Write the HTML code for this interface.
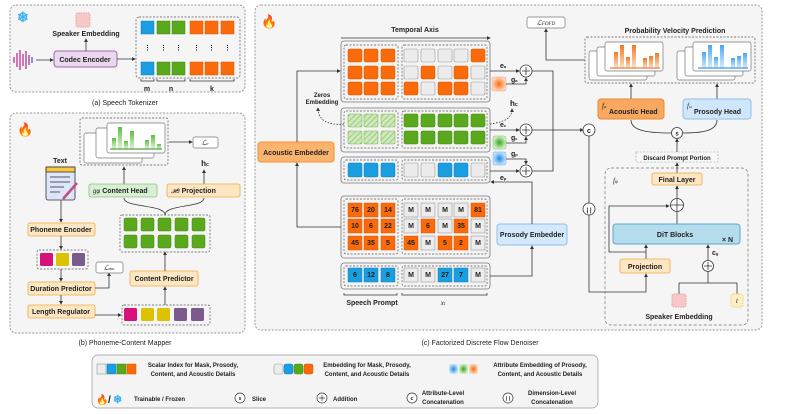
<!DOCTYPE html>
<html><head><meta charset="utf-8"><style>
body{margin:0;background:#fff}
svg{display:block;font-family:"Liberation Sans",sans-serif;font-weight:bold}
text{font-size:7px;fill:#222}
.o{fill:#fb6a0a;stroke:#d85800;stroke-width:.5}
.g{fill:#ececec;stroke:#999;stroke-width:.6}
.gr{fill:#5aa81c;stroke:#468a12;stroke-width:.5}
.b{fill:#1a9ee0;stroke:#1080c0;stroke-width:.5}
.h{fill:url(#hatch);stroke:#7ab850;stroke-width:.6}
.ln{fill:none;stroke:#333;stroke-width:.8}
.dash{fill:none;stroke:#555;stroke-width:.7;stroke-dasharray:2,1.5}
.blk{fill:#f4f4f4;stroke:#777;stroke-width:.8}
.ob{fill:#fde6c4;stroke:#f0aa40;stroke-width:.8}
.card{fill:#fff;stroke:#777;stroke-width:.7}
.n{font-size:6px;text-anchor:middle}
.c{text-anchor:middle}
</style></head><body>
<svg width="793" height="414" viewBox="0 0 793 414" xmlns="http://www.w3.org/2000/svg">
<defs>
<marker id="a" markerWidth="5" markerHeight="5" refX="4" refY="2.5" orient="auto"><path d="M0,0 L5,2.5 L0,5z" fill="#333"/></marker>
<pattern id="hatch" width="4" height="4" patternUnits="userSpaceOnUse" patternTransform="rotate(45)"><rect width="4" height="4" fill="#cfe8bd"/><line x1="0" y1="0" x2="0" y2="4" stroke="#8cc66a" stroke-width="1.5"/></pattern>
<radialGradient id="ro"><stop offset="0" stop-color="#fb6a0a"/><stop offset="1" stop-color="#fdd8c0"/></radialGradient>
<radialGradient id="rg"><stop offset="0" stop-color="#3aa51c"/><stop offset="1" stop-color="#d0f0c8"/></radialGradient>
<radialGradient id="rb"><stop offset="0" stop-color="#1a8ee0"/><stop offset="1" stop-color="#c8e4fb"/></radialGradient>
<linearGradient id="gg" x1="0" y1="0" x2="0" y2="1"><stop offset="0" stop-color="#5cc040"/><stop offset="1" stop-color="#e0f5d8"/></linearGradient>
<linearGradient id="og" x1="0" y1="0" x2="0" y2="1"><stop offset="0" stop-color="#f07a20"/><stop offset="1" stop-color="#fde0c8"/></linearGradient>
<linearGradient id="bg" x1="0" y1="0" x2="0" y2="1"><stop offset="0" stop-color="#4aa8f0"/><stop offset="1" stop-color="#d8ecfc"/></linearGradient>
</defs>

<!-- panel a -->
<rect x="10" y="5" width="235" height="87" rx="6" fill="#f5f5f5" stroke="#999" stroke-dasharray="2,1.5"/>
<text x="17" y="22" style="font-size:14px;fill:#3ab0f0">❄</text>
<g stroke="#c03090" stroke-width="1.3"><line x1="14" y1="57" x2="14" y2="63"/><line x1="17" y1="53" x2="17" y2="67"/><line x1="20" y1="50" x2="20" y2="70"/><line x1="23" y1="54" x2="23" y2="66"/><line x1="26" y1="51" x2="26" y2="69"/><line x1="29" y1="55" x2="29" y2="65" stroke="#8040c0"/><line x1="32" y1="57" x2="32" y2="63" stroke="#8040c0"/></g>
<line x1="36" y1="60" x2="53" y2="60" class="ln" marker-end="url(#a)"/>
<rect x="54" y="51" width="63" height="16" rx="3" fill="#ead8ef" stroke="#9a6aa8"/>
<text x="85" y="62" class="c">Codec Encoder</text>
<rect x="76" y="13" width="14" height="14" rx="2" fill="#f6c8c8" stroke="#e9a0a0" stroke-dasharray="1.5,1"/>
<text x="86" y="36" class="c">Speaker Embedding</text>
<line x1="86" y1="51" x2="86" y2="39" class="ln" marker-end="url(#a)"/>
<line x1="117" y1="59" x2="135" y2="59" class="ln" marker-end="url(#a)"/>
<rect x="136" y="17" width="104" height="61" rx="3" class="dash"/>
<rect x="141" y="21" width="13" height="13" class="b"/><rect x="157" y="21" width="13" height="13" class="gr"/><rect x="172" y="21" width="13" height="13" class="gr"/><rect x="190" y="21" width="13" height="13" class="o"/><rect x="205" y="21" width="13" height="13" class="o"/><rect x="221" y="21" width="13" height="13" class="o"/>
<rect x="141" y="62" width="13" height="13" class="b"/><rect x="157" y="62" width="13" height="13" class="gr"/><rect x="172" y="62" width="13" height="13" class="gr"/><rect x="190" y="62" width="13" height="13" class="o"/><rect x="205" y="62" width="13" height="13" class="o"/><rect x="221" y="62" width="13" height="13" class="o"/>
<text x="144" y="50">⋮</text><text x="160" y="50">⋮</text><text x="175" y="50">⋮</text><text x="193" y="50">⋮</text><text x="208" y="50">⋮</text><text x="224" y="50">⋮</text>
<path d="M141,79 v2 h13 v-2 M157,79 v2 h28 v-2 M190,79 v2 h44 v-2" class="ln"/>
<text x="147" y="91" class="c">m</text><text x="171" y="91" class="c">n</text><text x="212" y="91" class="c">k</text>
<text x="125" y="105" class="c" style="font-weight:normal">(a) Speech Tokenizer</text>

<!-- panel b -->
<rect x="10" y="113" width="235" height="220" rx="6" fill="#f5f5f5" stroke="#999" stroke-dasharray="2,1.5"/>
<text x="17" y="134" style="font-size:13px;fill:#f05020">🔥</text>
<rect x="80" y="118" width="88" height="47" rx="2" class="dash"/>
<rect x="84" y="133" width="58" height="30" rx="2" class="card"/>
<rect x="96" y="128" width="58" height="30" rx="2" class="card"/>
<rect x="107" y="123" width="58" height="30" rx="2" class="card"/>
<g fill="url(#gg)"><rect x="112" y="138" width="4" height="11"/><rect x="118" y="127" width="4" height="22"/><rect x="124" y="141" width="4" height="8"/><rect x="130" y="131" width="4" height="18"/><rect x="145" y="140" width="4" height="9"/><rect x="151" y="135" width="4" height="14"/><rect x="157" y="144" width="4" height="5"/></g>
<line x1="110" y1="149" x2="162" y2="149" stroke="#2a8a10"/>
<line x1="169" y1="142" x2="192" y2="142" class="ln" marker-end="url(#a)"/>
<rect x="193" y="137" width="25" height="11" rx="2" fill="#fff" stroke="#777" stroke-width=".7"/>
<text x="205" y="145" class="c" style="font-style:italic;font-weight:normal">ℒ<tspan font-size="4">c</tspan></text>
<text x="205" y="166" class="c" style="font-size:8px">h<tspan font-size="5">c</tspan></text>
<line x1="204" y1="184" x2="204" y2="170" class="ln" marker-end="url(#a)"/>
<line x1="124" y1="184" x2="124" y2="167" class="ln" marker-end="url(#a)"/>
<rect x="89" y="184" width="68" height="13" rx="2" fill="#d8efd4" stroke="#8cc080" stroke-width=".8"/>
<text x="93" y="193"><tspan font-style="italic" font-size="6" font-weight="normal">gφ</tspan> Content Head</text>
<rect x="167" y="184" width="73" height="13" rx="2" class="ob"/>
<text x="171" y="193"><tspan font-style="italic" font-size="6" font-weight="normal">𝓗θ</tspan>    Projection</text>
<path d="M165,215 C165,204 124,208 124,198 M165,215 C165,204 204,208 204,198" class="ln"/>
<text x="60" y="163" class="c">Text</text>
<rect x="46" y="167" width="29" height="33" rx="2" fill="#dde6f8" stroke="#333" stroke-width=".8"/><rect x="46" y="167" width="29" height="5" fill="#f8c840" stroke="#333" stroke-width=".8"/>
<g stroke="#556" stroke-width="1"><line x1="50" y1="177" x2="70" y2="177"/><line x1="50" y1="182" x2="70" y2="182"/><line x1="50" y1="187" x2="64" y2="187"/><line x1="50" y1="192" x2="60" y2="192"/></g>
<line x1="77" y1="183" x2="63" y2="199" stroke="#c05080" stroke-width="2.5"/>
<line x1="61" y1="200" x2="61" y2="222" class="ln" marker-end="url(#a)"/>
<rect x="28" y="223" width="67" height="13" rx="2" class="ob"/><text x="61" y="232" class="c">Phoneme Encoder</text>
<line x1="61" y1="236" x2="61" y2="249" class="ln" marker-end="url(#a)"/>
<rect x="37" y="250" width="51" height="19" rx="2" class="dash"/>
<rect x="40" y="253" width="13" height="13" rx="1.5" fill="#d6127a"/><rect x="56" y="253" width="13" height="13" rx="1.5" fill="#dcc200"/><rect x="72" y="253" width="13" height="13" rx="1.5" fill="#7b5a8c"/>
<line x1="61" y1="269" x2="61" y2="281" class="ln" marker-end="url(#a)"/>
<rect x="28" y="282" width="67" height="13" rx="2" class="ob"/><text x="61" y="291" class="c">Duration Predictor</text>
<path d="M95,288 H109 V273" class="ln" marker-end="url(#a)"/>
<rect x="96" y="262" width="27" height="11" rx="2" fill="#fff" stroke="#777" stroke-width=".7"/>
<text x="109" y="270" class="c" style="font-style:italic;font-weight:normal">ℒ<tspan font-size="4">dur</tspan></text>
<line x1="61" y1="295" x2="61" y2="304" class="ln" marker-end="url(#a)"/>
<rect x="28" y="305" width="67" height="13" rx="2" class="ob"/><text x="61" y="314" class="c">Length Regulator</text>
<line x1="95" y1="315" x2="121" y2="315" class="ln" marker-end="url(#a)"/>
<rect x="122" y="305" width="88" height="20" rx="2" class="dash"/>
<rect x="124" y="308" width="13" height="13" rx="1.5" fill="#d6127a"/><rect x="141" y="308" width="13" height="13" rx="1.5" fill="#dcc200"/><rect x="157" y="308" width="13" height="13" rx="1.5" fill="#dcc200"/><rect x="174" y="308" width="13" height="13" rx="1.5" fill="#7b5a8c"/><rect x="191" y="308" width="13" height="13" rx="1.5" fill="#7b5a8c"/>
<line x1="165" y1="305" x2="165" y2="287" class="ln" marker-end="url(#a)"/>
<rect x="130" y="271" width="68" height="15" rx="2" class="ob"/><text x="164" y="281" class="c">Content Predictor</text>
<line x1="165" y1="271" x2="165" y2="252" class="ln" marker-end="url(#a)"/>
<rect x="120" y="215" width="90" height="37" rx="2" class="dash"/>
<g class="gr"><rect x="124" y="218" width="13" height="13" rx="1.5"/><rect x="141" y="218" width="13" height="13" rx="1.5"/><rect x="158" y="218" width="13" height="13" rx="1.5"/><rect x="175" y="218" width="13" height="13" rx="1.5"/><rect x="192" y="218" width="13" height="13" rx="1.5"/><rect x="124" y="235" width="13" height="13" rx="1.5"/><rect x="141" y="235" width="13" height="13" rx="1.5"/><rect x="158" y="235" width="13" height="13" rx="1.5"/><rect x="175" y="235" width="13" height="13" rx="1.5"/><rect x="192" y="235" width="13" height="13" rx="1.5"/></g>
<text x="125" y="345" class="c" style="font-weight:normal">(b) Phoneme-Content Mapper</text>

<!-- panel c -->
<rect x="255" y="5" width="507" height="325" rx="6" fill="#f5f5f5" stroke="#999" stroke-dasharray="2,1.5"/>
<text x="261" y="26" style="font-size:13px;fill:#f05020">🔥</text>
<text x="415" y="32" class="c">Temporal Axis</text>
<line x1="341" y1="38" x2="490" y2="38" class="ln" marker-end="url(#a)"/>
<!-- acoustic block -->
<rect x="341" y="41" width="149" height="61" rx="3" class="blk"/>
<rect x="344" y="45" width="54" height="54" rx="2" class="dash"/><rect x="402" y="45" width="85" height="54" rx="2" class="dash"/>
<g class="o"><rect x="348" y="49" width="14" height="13" rx="1.5"/><rect x="364" y="49" width="14" height="13" rx="1.5"/><rect x="381" y="49" width="14" height="13" rx="1.5"/><rect x="348" y="66" width="14" height="13" rx="1.5"/><rect x="364" y="66" width="14" height="13" rx="1.5"/><rect x="381" y="66" width="14" height="13" rx="1.5"/><rect x="348" y="82" width="14" height="13" rx="1.5"/><rect x="364" y="82" width="14" height="13" rx="1.5"/><rect x="381" y="82" width="14" height="13" rx="1.5"/></g>
<rect x="404" y="49" width="14" height="13" rx="1.5" class="g"/><rect x="421" y="49" width="14" height="13" rx="1.5" class="g"/><rect x="438" y="49" width="14" height="13" rx="1.5" class="g"/><rect x="454" y="49" width="14" height="13" rx="1.5" class="g"/><rect x="471" y="49" width="14" height="13" rx="1.5" class="o"/>
<rect x="404" y="66" width="14" height="13" rx="1.5" class="g"/><rect x="421" y="66" width="14" height="13" rx="1.5" class="o"/><rect x="438" y="66" width="14" height="13" rx="1.5" class="g"/><rect x="454" y="66" width="14" height="13" rx="1.5" class="o"/><rect x="471" y="66" width="14" height="13" rx="1.5" class="g"/>
<rect x="404" y="82" width="14" height="13" rx="1.5" class="o"/><rect x="421" y="82" width="14" height="13" rx="1.5" class="g"/><rect x="438" y="82" width="14" height="13" rx="1.5" class="o"/><rect x="454" y="82" width="14" height="13" rx="1.5" class="o"/><rect x="471" y="82" width="14" height="13" rx="1.5" class="g"/>
<!-- content block -->
<rect x="341" y="108" width="149" height="44" rx="3" class="blk"/>
<rect x="344" y="111" width="54" height="37" rx="2" class="dash"/><rect x="402" y="111" width="85" height="37" rx="2" class="dash"/>
<g class="h"><rect x="348" y="114" width="14" height="13" rx="1.5"/><rect x="364" y="114" width="14" height="13" rx="1.5"/><rect x="381" y="114" width="14" height="13" rx="1.5"/><rect x="348" y="131" width="14" height="13" rx="1.5"/><rect x="364" y="131" width="14" height="13" rx="1.5"/><rect x="381" y="131" width="14" height="13" rx="1.5"/></g>
<g class="gr"><rect x="404" y="114" width="14" height="13" rx="1.5"/><rect x="421" y="114" width="14" height="13" rx="1.5"/><rect x="438" y="114" width="14" height="13" rx="1.5"/><rect x="454" y="114" width="14" height="13" rx="1.5"/><rect x="471" y="114" width="14" height="13" rx="1.5"/><rect x="404" y="131" width="14" height="13" rx="1.5"/><rect x="421" y="131" width="14" height="13" rx="1.5"/><rect x="438" y="131" width="14" height="13" rx="1.5"/><rect x="454" y="131" width="14" height="13" rx="1.5"/><rect x="471" y="131" width="14" height="13" rx="1.5"/></g>
<!-- prosody block -->
<rect x="341" y="157" width="149" height="26" rx="3" class="blk"/>
<rect x="344" y="160" width="54" height="20" rx="2" class="dash"/><rect x="402" y="160" width="85" height="20" rx="2" class="dash"/>
<rect x="348" y="163" width="14" height="14" rx="1.5" class="b"/><rect x="364" y="163" width="14" height="14" rx="1.5" class="b"/><rect x="381" y="163" width="14" height="14" rx="1.5" class="b"/>
<rect x="404" y="163" width="14" height="14" rx="1.5" class="g"/><rect x="421" y="163" width="14" height="14" rx="1.5" class="g"/><rect x="438" y="163" width="14" height="14" rx="1.5" class="b"/><rect x="454" y="163" width="14" height="14" rx="1.5" class="b"/><rect x="471" y="163" width="14" height="14" rx="1.5" class="g"/>
<!-- index block -->
<rect x="341" y="196" width="149" height="62" rx="3" class="blk"/>
<rect x="344" y="199" width="54" height="55" rx="2" class="dash"/><rect x="402" y="199" width="85" height="55" rx="2" class="dash"/>
<g class="o"><rect x="348" y="203" width="14" height="14"/><rect x="364" y="203" width="14" height="14"/><rect x="381" y="203" width="14" height="14"/><rect x="348" y="219" width="14" height="14"/><rect x="364" y="219" width="14" height="14"/><rect x="381" y="219" width="14" height="14"/><rect x="348" y="236" width="14" height="14"/><rect x="364" y="236" width="14" height="14"/><rect x="381" y="236" width="14" height="14"/><rect x="471" y="203" width="14" height="14"/><rect x="421" y="219" width="14" height="14"/><rect x="454" y="219" width="14" height="14"/><rect x="404" y="236" width="14" height="14"/><rect x="438" y="236" width="14" height="14"/><rect x="454" y="236" width="14" height="14"/></g>
<g class="g"><rect x="404" y="203" width="14" height="14"/><rect x="421" y="203" width="14" height="14"/><rect x="438" y="203" width="14" height="14"/><rect x="454" y="203" width="14" height="14"/><rect x="404" y="219" width="14" height="14"/><rect x="438" y="219" width="14" height="14"/><rect x="471" y="219" width="14" height="14"/><rect x="421" y="236" width="14" height="14"/><rect x="471" y="236" width="14" height="14"/></g>
<g class="n"><text x="355" y="212">76</text><text x="371" y="212">20</text><text x="388" y="212">14</text><text x="411" y="212">M</text><text x="428" y="212">M</text><text x="445" y="212">M</text><text x="461" y="212">M</text><text x="478" y="212">81</text>
<text x="355" y="228">10</text><text x="371" y="228">6</text><text x="388" y="228">22</text><text x="411" y="228">M</text><text x="428" y="228">6</text><text x="445" y="228">M</text><text x="461" y="228">35</text><text x="478" y="228">M</text>
<text x="355" y="245">45</text><text x="371" y="245">35</text><text x="388" y="245">5</text><text x="411" y="245">45</text><text x="428" y="245">M</text><text x="445" y="245">5</text><text x="461" y="245">2</text><text x="478" y="245">M</text></g>
<!-- prosody index -->
<rect x="341" y="263" width="149" height="26" rx="3" class="blk"/>
<rect x="344" y="266" width="54" height="20" rx="2" class="dash"/><rect x="402" y="266" width="85" height="20" rx="2" class="dash"/>
<rect x="348" y="268" width="14" height="14" class="b"/><rect x="364" y="268" width="14" height="14" class="b"/><rect x="381" y="268" width="14" height="14" class="b"/><rect x="404" y="268" width="14" height="14" class="g"/><rect x="421" y="268" width="14" height="14" class="g"/><rect x="438" y="268" width="14" height="14" class="b"/><rect x="454" y="268" width="14" height="14" class="b"/><rect x="471" y="268" width="14" height="14" class="g"/>
<g class="n"><text x="355" y="277">6</text><text x="371" y="277">12</text><text x="388" y="277">8</text><text x="411" y="277">M</text><text x="428" y="277">M</text><text x="445" y="277">27</text><text x="461" y="277">7</text><text x="478" y="277">M</text></g>
<path d="M344,293 v2 h53 v-2 M402,293 v2 h85 v-2" class="ln"/>
<text x="372" y="305" class="c">Speech Prompt</text>
<text x="443" y="305" class="c" style="font-style:italic;font-family:'Liberation Serif',serif;font-weight:normal">x<tspan font-size="5">t</tspan></text>
<!-- acoustic embedder -->
<rect x="258" y="142" width="76" height="20" rx="3" fill="#fbb46e" stroke="#f09030"/>
<text x="296" y="155" class="c">Acoustic Embedder</text>
<path d="M341,227 H297 V163" class="ln" marker-end="url(#a)"/>
<path d="M297,142 V71 H340" class="ln" marker-end="url(#a)"/>
<text x="322" y="97" class="c" style="font-size:6px">Zeros</text><text x="322" y="104" class="c" style="font-size:6px">Embedding</text>
<path d="M344,124 C325,126 318,118 318,108" class="ln" stroke-dasharray="1.5,1.5" marker-end="url(#a)"/>
<!-- sums -->
<g fill="#fff" stroke="#333" stroke-width=".8"><circle cx="526" cy="71" r="6"/><circle cx="526" cy="130" r="6"/><circle cx="526" cy="171" r="6"/></g>
<g stroke="#333" stroke-width=".8"><path d="M522,71h8M526,67v8M522,130h8M526,126v8M522,171h8M526,167v8"/></g>
<line x1="490" y1="71" x2="519" y2="71" class="ln" marker-end="url(#a)"/><text x="500" y="68" style="font-size:7px">e<tspan font-size="4">a</tspan></text>
<rect x="492" y="77" width="14" height="14" rx="2" fill="url(#ro)" stroke="#f0a070" stroke-width=".5"/>
<path d="M506,84 H526 V78" class="ln" marker-end="url(#a)"/><text x="511" y="82" style="font-size:7px">g<tspan font-size="4">a</tspan></text>
<text x="510" y="106" style="font-size:8px">h<tspan font-size="5">c</tspan></text>
<path d="M490,124 C505,122 512,118 512,109" class="ln" stroke-dasharray="1.5,1.5" marker-end="url(#a)"/>
<line x1="490" y1="130" x2="519" y2="130" class="ln" marker-end="url(#a)"/><text x="500" y="127" style="font-size:7px">e<tspan font-size="4">c</tspan></text>
<rect x="493" y="136" width="13" height="13" rx="2" fill="url(#rg)" stroke="#80c070" stroke-width=".5"/>
<path d="M506,143 H526 V137" class="ln" marker-end="url(#a)"/><text x="511" y="140" style="font-size:7px">g<tspan font-size="4">c</tspan></text>
<rect x="493" y="152" width="13" height="13" rx="2" fill="url(#rb)" stroke="#70a8e0" stroke-width=".5"/>
<path d="M506,159 H526 V164" class="ln" marker-end="url(#a)"/><text x="511" y="156" style="font-size:7px">g<tspan font-size="4">p</tspan></text>
<line x1="490" y1="171" x2="519" y2="171" class="ln" marker-end="url(#a)"/><text x="500" y="180" style="font-size:7px">e<tspan font-size="4">p</tspan></text>
<path d="M532,71 H553 V171 H532" class="ln"/>
<line x1="532" y1="130" x2="583" y2="130" class="ln" marker-end="url(#a)"/>
<!-- prosody embedder -->
<rect x="497" y="224" width="70" height="21" rx="3" fill="#d4e9fb" stroke="#90c0ec"/>
<text x="532" y="237" class="c">Prosody Embedder</text>
<path d="M490,276 H532 V246" class="ln" marker-end="url(#a)"/>
<path d="M532,224 V182 H491" class="ln" marker-end="url(#a)"/>
<!-- L_FDFD -->
<rect x="527" y="17" width="38" height="11" rx="2" fill="#fff" stroke="#777" stroke-width=".7"/>
<text x="546" y="25" class="c" style="font-style:italic;font-weight:normal;font-family:'Liberation Serif',serif">ℒ<tspan font-size="5">FDFD</tspan></text>
<path d="M585,60 H546 V29" class="ln" marker-end="url(#a)"/>
<text x="675" y="33" class="c">Probability Velocity Prediction</text>
<rect x="585" y="37" width="170" height="46" rx="2" class="dash"/>
<rect x="589" y="51" width="58" height="29" rx="2" class="card"/><rect x="597" y="47" width="58" height="29" rx="2" class="card"/><rect x="605" y="42" width="58" height="29" rx="2" class="card"/>
<g fill="url(#og)"><rect x="614" y="52" width="4" height="16"/><rect x="620" y="45" width="4" height="23"/><rect x="626" y="57" width="4" height="11"/><rect x="632" y="45" width="4" height="23"/><rect x="643" y="58" width="4" height="10"/><rect x="649" y="56" width="4" height="12"/><rect x="655" y="53" width="4" height="15"/></g>
<line x1="610" y1="68" x2="660" y2="68" stroke="#e06010"/>
<rect x="677" y="51" width="58" height="29" rx="2" class="card"/><rect x="685" y="47" width="58" height="29" rx="2" class="card"/><rect x="693" y="42" width="58" height="29" rx="2" class="card"/>
<g fill="url(#bg)"><rect x="702" y="52" width="4" height="16"/><rect x="708" y="45" width="4" height="23"/><rect x="714" y="57" width="4" height="11"/><rect x="720" y="45" width="4" height="23"/><rect x="731" y="58" width="4" height="10"/><rect x="737" y="56" width="4" height="12"/><rect x="743" y="53" width="4" height="15"/></g>
<line x1="698" y1="68" x2="748" y2="68" stroke="#1080e0"/>
<line x1="631" y1="99" x2="631" y2="84" class="ln" marker-end="url(#a)"/>
<line x1="717" y1="99" x2="717" y2="84" class="ln" marker-end="url(#a)"/>
<rect x="598" y="99" width="66" height="20" rx="3" fill="#f8a860" stroke="#e88a30"/>
<text x="602" y="108" style="font-style:italic;font-weight:normal;font-family:'Liberation Serif',serif">f<tspan font-size="4">φ</tspan></text><text x="609" y="114">Acoustic Head</text>
<rect x="683" y="99" width="68" height="20" rx="3" fill="#d0e6fb" stroke="#90c0ec"/>
<text x="687" y="108" style="font-style:italic;font-weight:normal;font-family:'Liberation Serif',serif">f<tspan font-size="4">ω</tspan></text><text x="694" y="114">Prosody Head</text>
<path d="M671,133 C645,133 631,130 631,120 M683,133 C705,133 717,130 717,120" class="ln"/>
<circle cx="677" cy="133" r="5.5" fill="#fff" stroke="#333" stroke-width=".8"/><text x="677" y="135.5" class="c" style="font-size:6px">s</text>
<line x1="677" y1="152" x2="677" y2="139" class="ln" marker-end="url(#a)"/>
<rect x="636" y="152" width="82" height="10" fill="#f8f8f8" stroke="#999" stroke-width=".6" stroke-dasharray="2,1.5"/>
<text x="677" y="160" class="c" style="font-size:6px">Discard Prompt Portion</text>
<circle cx="589" cy="130" r="6" fill="#fff" stroke="#333" stroke-width=".8"/><text x="589" y="133" class="c">c</text>
<line x1="589" y1="136" x2="589" y2="203" class="ln"/>
<circle cx="589" cy="209" r="6" fill="#fff" stroke="#333" stroke-width=".8"/><text x="589" y="212" class="c" style="font-size:6px">| |</text>
<path d="M589,215 V292 H646 V274" class="ln" marker-end="url(#a)"/>
<rect x="605" y="168" width="143" height="157" rx="6" fill="none" stroke="#777" stroke-width=".7" stroke-dasharray="3,2"/>
<text x="613" y="183" style="font-style:italic;font-weight:normal;font-family:'Liberation Serif',serif">f<tspan font-size="5">φ</tspan></text>
<line x1="677" y1="173" x2="677" y2="163" class="ln" marker-end="url(#a)"/>
<rect x="652" y="173" width="50" height="12" rx="2" class="ob"/><text x="677" y="182" class="c">Final Layer</text>
<line x1="677" y1="199" x2="677" y2="186" class="ln" marker-end="url(#a)"/>
<circle cx="677" cy="205" r="6.5" fill="#fff" stroke="#333" stroke-width=".8"/><path d="M670.5,205h13M677,198.5v13" stroke="#333" stroke-width=".8"/>
<line x1="677" y1="224" x2="677" y2="212" class="ln"/>
<rect x="613" y="224" width="127" height="20" rx="3" fill="#b4dcec" stroke="#5aa8c8"/>
<text x="675" y="237" class="c">DiT Blocks</text><text x="722" y="242">× N</text>
<path d="M646,259 V245" class="ln" marker-end="url(#a)"/>
<path d="M646,252 H609 V206 H669" class="ln" marker-end="url(#a)"/>
<rect x="620" y="259" width="50" height="14" rx="2" class="ob"/><text x="645" y="269" class="c">Projection</text>
<circle cx="708" cy="266" r="5.5" fill="#fff" stroke="#333" stroke-width=".8"/><path d="M704,266h8M708,262v8" stroke="#333" stroke-width=".8"/>
<line x1="708" y1="260" x2="708" y2="245" class="ln" marker-end="url(#a)"/>
<text x="712" y="255" style="font-size:7px">c<tspan font-size="4">g</tspan></text>
<path d="M679,294 V283 H737 V294 M708,283 V272" class="ln"/>
<rect x="672" y="294" width="14" height="13" rx="2" fill="#f6c8c8" stroke="#e9a0a0" stroke-dasharray="1.5,1"/>
<rect x="731" y="294" width="12" height="13" rx="2" fill="#fdf0c0" stroke="#f0d070" stroke-dasharray="1.5,1"/>
<text x="737" y="303" class="c" style="font-style:italic;font-weight:normal;font-family:'Liberation Serif',serif">t</text>
<text x="679" y="319" class="c">Speaker Embedding</text>
<text x="480" y="345" class="c" style="font-weight:normal">(c) Factorized Discrete Flow Denoiser</text>

<!-- legend -->
<rect x="92" y="355" width="506" height="53" rx="6" fill="#f4f4f4" stroke="#999" stroke-width=".7"/>
<rect x="97" y="364" width="9" height="10" class="g"/><rect x="107" y="364" width="9" height="10" class="b"/><rect x="117" y="364" width="9" height="10" class="gr"/><rect x="127" y="364" width="9" height="10" class="o"/>
<text x="193" y="367" class="c" style="font-size:6px">Scalar Index for Mask, Prosody,</text><text x="193" y="376" class="c" style="font-size:6px">Content, and Acoustic Details</text>
<rect x="274" y="364" width="9" height="10" rx="2" class="g"/><rect x="284" y="364" width="9" height="10" rx="2" class="b"/><rect x="294" y="364" width="9" height="10" rx="2" class="gr"/><rect x="304" y="364" width="9" height="10" rx="2" class="o"/>
<text x="367" y="367" class="c" style="font-size:6px">Embedding for Mask, Prosody,</text><text x="367" y="376" class="c" style="font-size:6px">Content, and Acoustic Details</text>
<rect x="449" y="364" width="9" height="10" rx="2" fill="url(#rb)"/><rect x="459" y="364" width="9" height="10" rx="2" fill="url(#rg)"/><rect x="469" y="364" width="9" height="10" rx="2" fill="url(#ro)"/>
<text x="540" y="367" class="c" style="font-size:6px">Attribute Embedding of Prosody,</text><text x="540" y="376" class="c" style="font-size:6px">Content, and Acoustic Details</text>
<text x="96" y="403" style="font-size:10px;fill:#f05020">🔥</text><text x="108" y="403" style="font-size:10px">/</text><text x="113" y="403" style="font-size:11px;fill:#3ab0f0">❄</text>
<text x="134" y="401" style="font-size:6px">Trainable / Frozen</text>
<circle cx="240" cy="398" r="5" fill="#fff" stroke="#333" stroke-width=".7"/><text x="240" y="400" class="c" style="font-size:5px">s</text><text x="252" y="401" style="font-size:6px">Slice</text>
<circle cx="322" cy="398" r="5" fill="#fff" stroke="#333" stroke-width=".7"/><path d="M319,398h6M322,395v6" stroke="#333" stroke-width=".7"/><text x="333" y="401" style="font-size:6px">Addition</text>
<circle cx="412" cy="398" r="5" fill="#fff" stroke="#333" stroke-width=".7"/><text x="412" y="400" class="c" style="font-size:5px">c</text>
<text x="443" y="395" class="c" style="font-size:6px">Attribute-Level</text><text x="443" y="404" class="c" style="font-size:6px">Concatenation</text>
<circle cx="508" cy="398" r="5" fill="#fff" stroke="#333" stroke-width=".7"/><text x="508" y="400" class="c" style="font-size:5px">| |</text>
<text x="552" y="395" class="c" style="font-size:6px">Dimension-Level</text><text x="552" y="404" class="c" style="font-size:6px">Concatenation</text>
</svg>
</body></html>
